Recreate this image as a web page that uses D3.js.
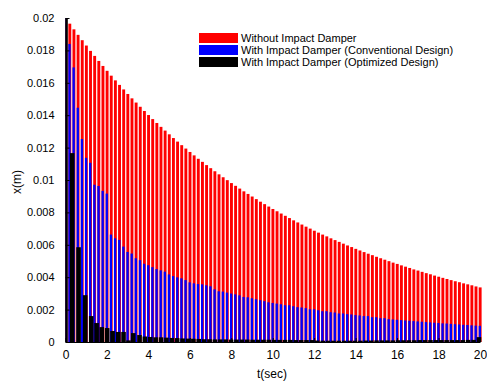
<!DOCTYPE html>
<html>
<head>
<meta charset="utf-8">
<script src="https://cdn.jsdelivr.net/npm/d3@7"></script>
<style>
  body { margin: 0; background: #fff; }
  text { font-family: Arial, "Liberation Sans", sans-serif; }
</style>
</head>
<body>
<svg id="canvas" width="487" height="383"></svg>
<script>
// data
let tRB = [0,0.2,0.4,0.6,0.8,1,1.2,1.4,1.6,1.8,2,2.2,2.4,2.6,2.8,3,3.2,3.4,3.6,3.8,
  4,4.2,4.4,4.6,4.8,5,5.2,5.4,5.6,5.8,6,6.2,6.4,6.6,6.8,7,7.2,7.4,7.6,7.8,
  8,8.2,8.4,8.6,8.8,9,9.2,9.4,9.6,9.8,10,10.2,10.4,10.6,10.8,11,11.2,11.4,11.6,11.8,
  12,12.2,12.4,12.6,12.8,13,13.2,13.4,13.6,13.8,14,14.2,14.4,14.6,14.8,15,15.2,15.4,15.6,15.8,
  16,16.2,16.4,16.6,16.8,17,17.2,17.4,17.6,17.8,18,18.2,18.4,18.6,18.8,19,19.2,19.4,19.6,19.8,20]

let withoutDamper = [0.02000,0.01965,0.01930,0.01896,0.01863,0.01830,0.01797,0.01766,0.01735,0.01704,
  0.01674,0.01644,0.01615,0.01587,0.01559,0.01531,0.01504,0.01478,0.01452,0.01426,
  0.01401,0.01376,0.01352,0.01328,0.01305,0.01282,0.01259,0.01237,0.01215,0.01194,
  0.01173,0.01152,0.01131,0.01112,0.01092,0.01073,0.01054,0.01035,0.01017,0.00999,
  0.00981,0.00964,0.00947,0.00930,0.00914,0.00898,0.00882,0.00866,0.00851,0.00836,
  0.00821,0.00807,0.00793,0.00779,0.00765,0.00751,0.00738,0.00725,0.00712,0.00700,
  0.00687,0.00675,0.00663,0.00652,0.00640,0.00629,0.00618,0.00607,0.00596,0.00586,
  0.00575,0.00565,0.00555,0.00545,0.00536,0.00526,0.00517,0.00508,0.00499,0.00490,
  0.00482,0.00473,0.00465,0.00457,0.00448,0.00441,0.00433,0.00425,0.00418,0.00410,
  0.00403,0.00396,0.00389,0.00382,0.00375,0.00369,0.00362,0.00356,0.00350,0.00343,0.00337]

let conventional = [0.02000,0.01840,0.01695,0.01446,0.01253,0.01137,0.01106,0.00971,0.00963,0.00933,
  0.00916,0.00663,0.00640,0.00630,0.00589,0.00556,0.00546,0.00517,0.00505,0.00483,
  0.00474,0.00462,0.00450,0.00442,0.00434,0.00417,0.00407,0.00399,0.00393,0.00382,
  0.00368,0.00362,0.00358,0.00356,0.00350,0.00344,0.00325,0.00313,0.00311,0.00305,
  0.00299,0.00294,0.00288,0.00278,0.00276,0.00270,0.00264,0.00258,0.00252,0.00245,
  0.00241,0.00237,0.00233,0.00227,0.00227,0.00221,0.00215,0.00213,0.00209,0.00202,
  0.00202,0.00196,0.00190,0.00190,0.00184,0.00182,0.00176,0.00176,0.00172,0.00170,
  0.00166,0.00164,0.00160,0.00160,0.00153,0.00153,0.00147,0.00147,0.00141,0.00139,
  0.00137,0.00135,0.00133,0.00131,0.00129,0.00127,0.00125,0.00123,0.00121,0.00119,
  0.00117,0.00115,0.00114,0.00112,0.00110,0.00108,0.00106,0.00105,0.00103,0.00101,0.00100]

let tOpt = [0,0.32,0.63,0.95,1.24,1.50,1.75,2.01,2.27,2.54,2.80,3.04,3.27,3.57,
  3.83,4.09,4.35,4.61,4.87,5.13,5.39,5.65,5.91,6.17,6.43,
  6.69,6.95,7.21,7.47,7.73,7.99,8.25,8.51,8.77,9.03,9.29,9.55,9.81,10.07,10.33,10.59,10.85,11.11,11.37,11.63,11.89,
  12.15,12.41,12.67,12.93,13.19,13.45,13.71,13.97,14.23,14.49,14.75,15.01,15.27,15.53,15.79,16.05,
  16.31,16.57,16.83,17.09,17.35,17.61,17.87,18.13,18.39,18.65,18.91,19.17,19.43,19.69,19.95]

let optimized = [0.02000,0.01166,0.00585,0.00289,0.00160,0.00117,0.00092,0.00086,0.00068,0.00062,0.00062,0.00010,0.00055,0.00043,
  0.00034,0.00031,0.00029,0.00029,0.00027,0.00025,0.00024,0.00022,0.00021,0.00020,0.00019,
  0.00017,0.00017,0.00016,0.00016,0.00016,0.00015,0.00015,0.00015,0.00015,0.00014,0.00014,0.00014,0.00014,0.00013,0.00013,0.00013,0.00013,0.00012,0.00012,0.00012,0.00012,
  0.00009,0.00008,0.00008,0.00008,0.00008,0.00008,0.00008,0.00008,0.00008,0.00009,0.00009,0.00010,0.00010,0.00010,0.00010,0.00011,
  0.00011,0.00011,0.00011,0.00012,0.00012,0.00012,0.00012,0.00012,0.00012,0.00012,0.00012,0.00012,0.00013,0.00013,0.00030]

let xTicks = [0,2,4,6,8,10,12,14,16,18,20]
let yTicks = [0,0.002,0.004,0.006,0.008,0.01,0.012,0.014,0.016,0.018,0.02]
let legendLabels = ['Without Impact Damper', 'With Impact Damper (Conventional Design)', 'With Impact Damper (Optimized Design)']
let colors = ['#ff0000', '#0000ff', '#000000']

let canvas = d3.select('#canvas')

let x = d3.scaleLinear().domain([0, 20]).range([65.5, 480])
let y = d3.scaleLinear().domain([0, 0.02]).range([342, 18])

canvas.append('clipPath').attr('id', 'plot')
    .append('rect').attr('x', 65.5).attr('y', 0).attr('width', 417).attr('height', 342)

let bars = canvas.append('g').attr('clip-path', 'url(#plot)')

let drawBars = (times, vals, color, off, w) => {
    bars.append('g').selectAll('rect')
        .data(vals)
        .enter()
        .append('rect')
        .attr('x', (d, i) => x(times[i]) + off)
        .attr('width', w)
        .attr('y', d => y(d))
        .attr('height', d => y(0) - y(d))
        .attr('fill', color)
}

drawBars(tRB, withoutDamper, colors[0], -1.3, 2.9)
drawBars(tRB, conventional, colors[1], -1.3, 2.3)
drawBars(tOpt, optimized, colors[2], -2.3, 4.6)

// axes, ticks pointing inward like matlab
canvas.append('g')
    .attr('transform', 'translate(0,342)')
    .call(d3.axisBottom(x).tickValues(xTicks).tickFormat(d3.format('d')).tickSizeInner(-4).tickSizeOuter(0).tickPadding(8))
    .call(g => g.selectAll('text').attr('font-size', 12).attr('fill', '#000'))

canvas.append('g')
    .attr('transform', 'translate(65.5,0)')
    .call(d3.axisLeft(y).tickValues(yTicks).tickFormat(d3.format('~g')).tickSizeInner(-4).tickSizeOuter(0).tickPadding(11))
    .call(g => g.selectAll('text').attr('font-size', 11).attr('fill', '#000'))

canvas.append('text').attr('x', 272).attr('y', 378)
    .attr('text-anchor', 'middle').attr('font-size', 12).text('t(sec)')

canvas.append('text').attr('transform', 'translate(21,182) rotate(-90)')
    .attr('text-anchor', 'middle').attr('font-size', 12).text('x(m)')

// legend
let legend = canvas.append('g').attr('transform', 'translate(199,33)')
legendLabels.forEach((lab, i) => {
    legend.append('rect').attr('x', 0).attr('y', i * 12).attr('width', 39).attr('height', 10).attr('fill', colors[i])
    legend.append('text').attr('x', 42).attr('y', i * 12 + 9).attr('font-size', 11).text(lab)
})
</script>
</body>
</html>
